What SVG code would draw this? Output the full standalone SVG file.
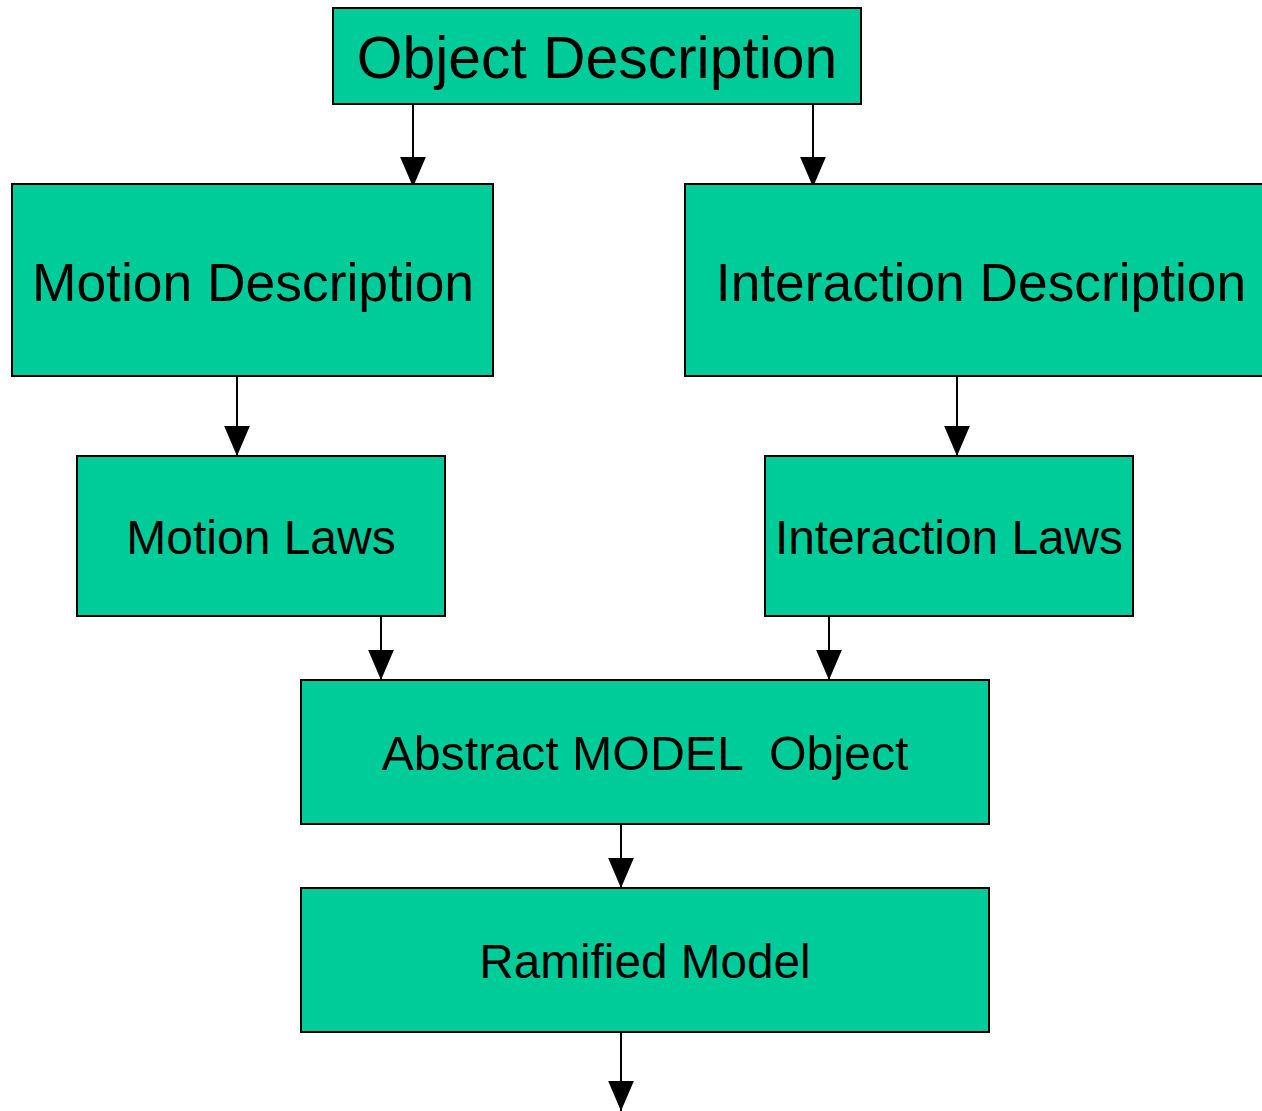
<svg xmlns="http://www.w3.org/2000/svg" width="1262" height="1111" viewBox="0 0 1262 1111">
<style>
.box{fill:#00CC99;stroke:#000;stroke-width:2}
.t{font-family:"Liberation Sans",Arial,sans-serif;fill:#000;text-anchor:middle;white-space:pre}
.c{stroke:#000;stroke-width:2;fill:none}
.h{fill:#000;stroke:none}
</style>
<defs>
<marker id="ah" markerUnits="userSpaceOnUse" markerWidth="26" markerHeight="30" refX="12" refY="28" orient="0" viewBox="0 0 24 28">
<path class="h" d="M0 0 L24 0 L12 28 Z"/>
</marker>
</defs>
<rect width="1262" height="1111" fill="#fff"/>
<g id="connectors">
<line class="c" x1="413" y1="104" x2="413" y2="187" marker-end="url(#ah)"/>
<line class="c" x1="813" y1="104" x2="813" y2="187" marker-end="url(#ah)"/>
<line class="c" x1="237" y1="376" x2="237" y2="456" marker-end="url(#ah)"/>
<line class="c" x1="957" y1="376" x2="957" y2="456" marker-end="url(#ah)"/>
<line class="c" x1="381" y1="616" x2="381" y2="680" marker-end="url(#ah)"/>
<line class="c" x1="829" y1="616" x2="829" y2="680" marker-end="url(#ah)"/>
<line class="c" x1="621" y1="824" x2="621" y2="888" marker-end="url(#ah)"/>
<line class="c" x1="621" y1="1032" x2="621" y2="1111" marker-end="url(#ah)"/>
</g>
<g id="object-description">
<rect class="box" x="333" y="8" width="528" height="96"/>
<text class="t" x="597" y="78" font-size="58.8">Object Description</text>
</g>
<g id="motion-description">
<rect class="box" x="12" y="184" width="481" height="192"/>
<text class="t" x="253" y="301" font-size="53.4">Motion Description</text>
</g>
<g id="interaction-description">
<rect class="box" x="685" y="184" width="590" height="192"/>
<text class="t" x="981" y="301" font-size="53.3">Interaction Description</text>
</g>
<g id="motion-laws">
<rect class="box" x="77" y="456" width="368" height="160"/>
<text class="t" x="261" y="554" font-size="48">Motion Laws</text>
</g>
<g id="interaction-laws">
<rect class="box" x="765" y="456" width="368" height="160"/>
<text class="t" x="949" y="554" font-size="47.8">Interaction Laws</text>
</g>
<g id="abstract-model-object">
<rect class="box" x="301" y="680" width="688" height="144"/>
<text class="t" x="645" y="770" font-size="48.3">Abstract MODEL  Object</text>
</g>
<g id="ramified-model">
<rect class="box" x="301" y="888" width="688" height="144"/>
<text class="t" x="645" y="978" font-size="47.7">Ramified Model</text>
</g>
</svg>
